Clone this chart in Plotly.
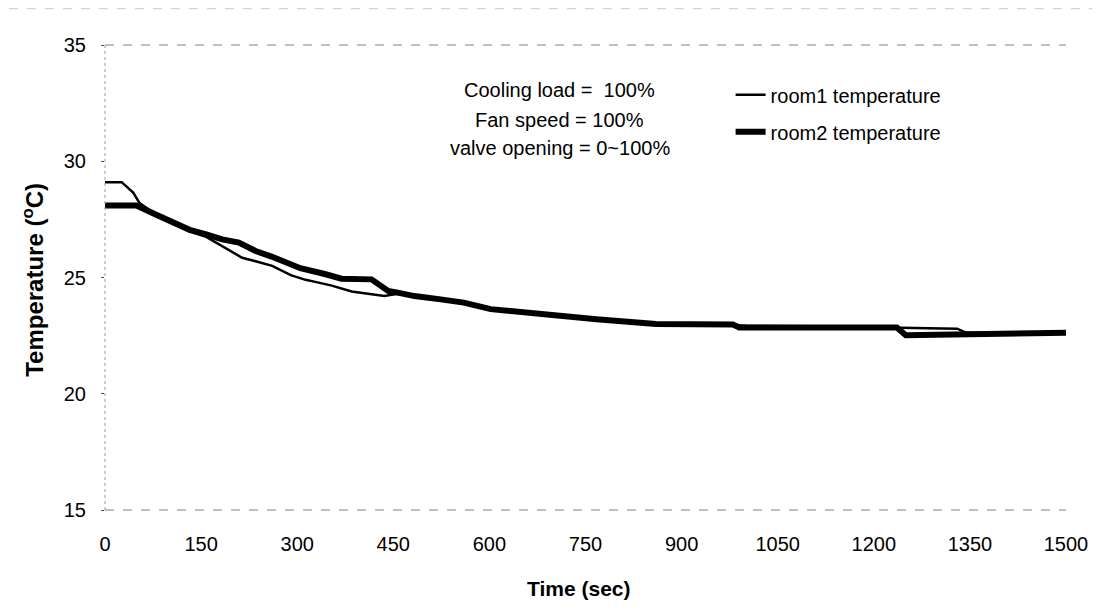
import plotly.graph_objects as go

# ---- data ----
room1_t = [0, 26, 44, 54, 80, 106, 132, 158, 183, 214, 235, 261, 290, 313, 330, 354, 385, 421,
           436, 457, 483, 524, 560, 602, 643, 705, 767, 860, 984, 1000, 1108, 1230, 1330,
           1345, 1500]
room1_T = [29.1, 29.1, 28.65, 28.2, 27.7, 27.35, 27.0, 26.75, 26.35, 25.85, 25.7, 25.5, 25.1,
           24.9, 24.8, 24.65, 24.4, 24.28, 24.2, 24.3, 24.2, 24.06, 23.92, 23.64, 23.52, 23.33,
           23.2, 23.0, 22.95, 22.92, 22.9, 22.85, 22.8, 22.62, 22.62]

room2_t = [0, 49, 80, 106, 132, 158, 183, 209, 235, 260, 287, 305, 343, 369, 416, 442, 457,
           483, 524, 560, 602, 643, 705, 767, 860, 980, 990, 1108, 1236, 1250, 1338, 1400, 1500]
room2_T = [28.1, 28.1, 27.7, 27.38, 27.05, 26.85, 26.64, 26.5, 26.14, 25.9, 25.6, 25.4, 25.15,
           24.95, 24.92, 24.42, 24.35, 24.2, 24.06, 23.92, 23.64, 23.52, 23.33, 23.2, 23.0,
           22.98, 22.85, 22.88, 22.85, 22.52, 22.55, 22.62, 22.62]

x_ticks = [0, 150, 300, 450, 600, 750, 900, 1050, 1200, 1350, 1500]
y_ticks = [15, 20, 25, 30, 35]
note_lines = ["Cooling load =  100%", "Fan speed = 100%", "valve opening = 0~100%"]

FONT = "Liberation Sans, Arial, sans-serif"

fig = go.Figure()
fig.add_trace(go.Scatter(x=room1_t, y=room1_T, mode="lines", name="room1 temperature",
                         line=dict(color="black", width=2.5), legendgroup="a"))
fig.add_trace(go.Scatter(x=room2_t, y=room2_T, mode="lines", name="room2 temperature",
                         line=dict(color="black", width=6), legendgroup="b"))

fig.update_layout(
    width=1092, height=606,
    margin=dict(l=97, r=27, t=37, b=104),
    paper_bgcolor="white", plot_bgcolor="white",
    font=dict(family=FONT, size=20, color="black"),
    showlegend=True,
    legend=dict(x=0.651, y=0.935, xanchor="left", yanchor="top",
                bgcolor="rgba(0,0,0,0)", font=dict(size=20),
                tracegroupgap=8, traceorder="grouped"),
    xaxis=dict(range=[0, 1500], tickvals=x_ticks, ticktext=[str(v) for v in x_ticks],
               showgrid=False, zeroline=False, showline=False,
               ticks="", ticklabelstandoff=20),
    yaxis=dict(range=[15, 35], tickvals=y_ticks, ticktext=[str(v) for v in y_ticks],
               showgrid=False, zeroline=False, showline=False,
               ticks="outside", ticklen=3, tickcolor="#555555",
               ticklabelstandoff=11),
)

# faint dashed frame lines (top and bottom of the plot area) and dotted y-axis line
for yy in (0, 1):
    fig.add_shape(type="line", xref="x domain", yref="y domain", x0=0, x1=1, y0=yy, y1=yy,
                  line=dict(color="#808080", width=1, dash="dash"))
fig.add_shape(type="line", xref="x domain", yref="y domain", x0=0, x1=0, y0=0, y1=1,
              line=dict(color="#9a9a9a", width=1, dash="dot"))
# faint dashed border at the very top (scan artefact of the chart frame)
fig.add_shape(type="line", xref="paper", yref="paper", x0=-0.1, x1=1.03, y0=1.078, y1=1.078,
              line=dict(color="#c8c8c8", width=1, dash="dash"))

# axis titles
fig.add_annotation(text="<b>Time (sec)</b>", xref="paper", yref="paper", x=0.493, y=0,
                   yshift=-78, showarrow=False, font=dict(size=21), yanchor="middle")
fig.add_annotation(text="<b>Temperature (<sup>o</sup>C)</b>", xref="paper", yref="paper",
                   x=0, y=0.495, xshift=-72, textangle=-90, showarrow=False,
                   font=dict(size=24), xanchor="center", yanchor="middle")

# condition notes
note_y = [0.903, 0.839, 0.778]
for txt, yy in zip(note_lines, note_y):
    fig.add_annotation(text=txt, xref="paper", yref="paper", x=0.473, y=yy,
                       showarrow=False, font=dict(size=20), xanchor="center", yanchor="middle")

fig.write_html("out.html")
